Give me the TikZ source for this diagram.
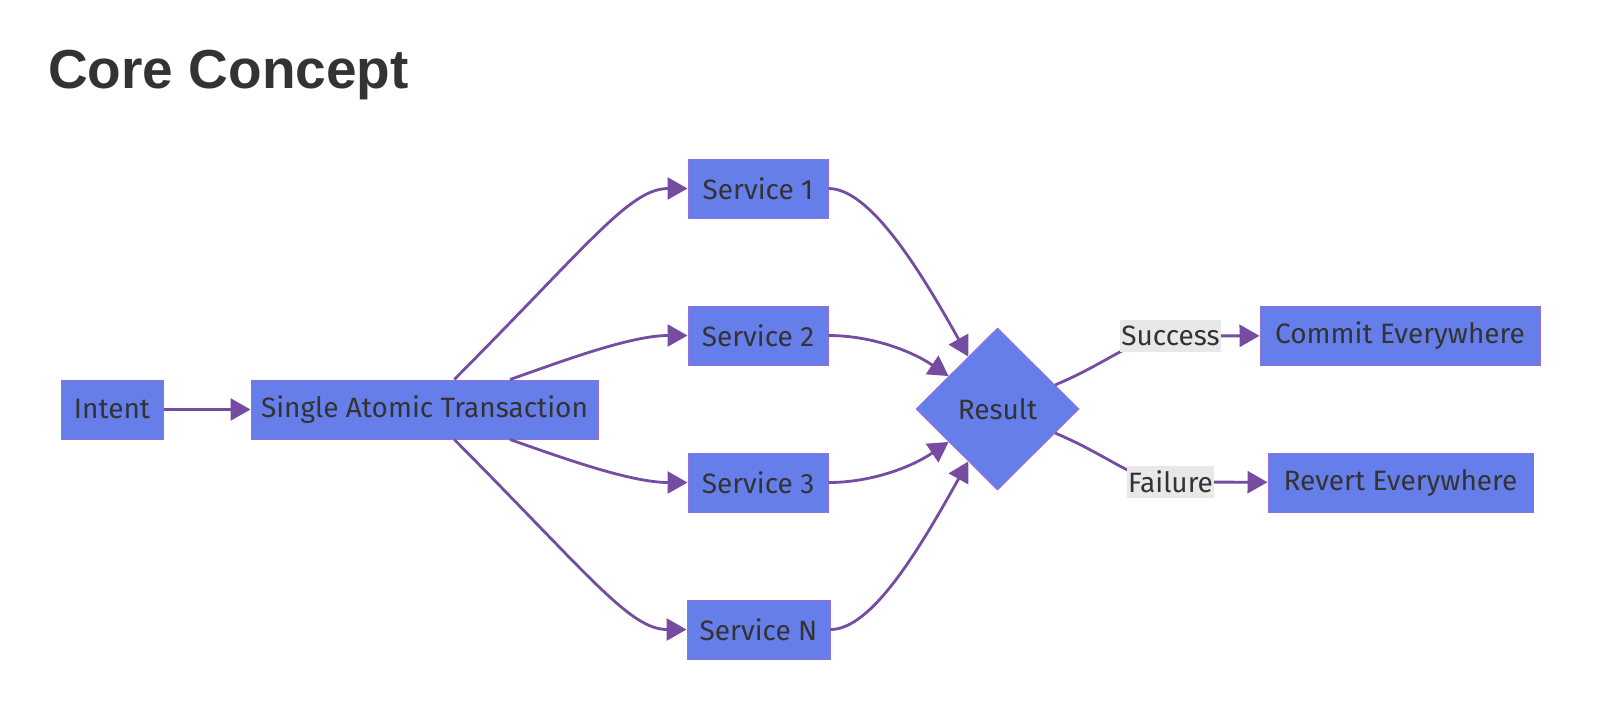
\documentclass[tikz,border=0pt]{standalone}
\usepackage{fontspec}
\setmainfont{Fira Sans}
\newfontfamily\titlefont{Liberation Sans}
\usetikzlibrary{shapes.geometric,arrows.meta}
\definecolor{nodefill}{HTML}{667EEA}
\definecolor{nodeborder}{HTML}{9370DB}
\definecolor{edgecol}{HTML}{764BA2}
\definecolor{txt}{HTML}{333333}
\definecolor{lblbg}{HTML}{E8E8E8}
\tikzset{
  box/.style={rectangle, fill=nodefill, draw=nodeborder, line width=1pt, text=txt,
    font=\fontsize{28}{30}\selectfont, minimum height=59pt, inner sep=0pt},
  decision/.style={diamond, aspect=1, fill=nodefill, draw=nodeborder, line width=1pt, text=txt,
    font=\fontsize{28}{30}\selectfont, minimum width=163pt, minimum height=162pt, inner sep=0pt},
  flow/.style={draw=edgecol, line width=2.8pt, -{Triangle[length=20pt,width=22pt]}},
  elabel/.style={fill=lblbg, text=txt, font=\fontsize{28}{30}\selectfont,
    minimum height=32pt, inner xsep=1pt, inner ysep=0pt},
}
\begin{document}
\begin{tikzpicture}[x=1pt,y=-1pt]
\useasboundingbox[fill=white] (0,0) rectangle (1600,716);
\node[anchor=base west, text=txt, font=\titlefont\bfseries\fontsize{55}{60}\selectfont, inner sep=0pt] (title) at (48,88) {Core Concept};

\node[box, minimum width=102pt] (intent) at (112,409.5) {Intent};
\node[box, minimum width=347pt] (sat) at (424.5,409.5) {Single Atomic Transaction};
\node[box, minimum width=140pt] (s1) at (758,188.5) {Service 1};
\node[box, minimum width=140pt] (s2) at (758,335.5) {Service 2};
\node[box, minimum width=140pt] (s3) at (758,482.5) {Service 3};
\node[box, minimum width=143pt] (sn) at (758.5,629.5) {Service N};
\node[decision] (res) at (997.5,409) {Result};
\node[box, minimum width=280pt] (commit) at (1400,335.5) {Commit Everywhere};
\node[box, minimum width=265pt] (revert) at (1400.5,482.5) {Revert Everywhere};
\coordinate (sl) at (1170.5,336);
\coordinate (fl) at (1170.5,482);

\draw[flow] (intent) -- (sat);
\draw[flow] (sat) .. controls (590,243) and (630,188.5) .. (s1);
\draw[flow] (sat) .. controls (560,362) and (630,335.5) .. (s2);
\draw[flow] (sat) .. controls (560,457) and (630,482.5) .. (s3);
\draw[flow] (sat) .. controls (590,576) and (630,629.5) .. (sn);

\draw[flow] (s1) .. controls (870,188.5) and (920,270) .. (res);
\draw[flow] (s2) .. controls (870,335.5) and (910,350) .. (res);
\draw[flow] (s3) .. controls (870,482.5) and (910,468) .. (res);
\draw[flow] (sn) .. controls (872,629.5) and (920,548) .. (res);

\draw[flow] (res) .. controls (1110,362) and (1135,336) .. (sl) -- (commit);
\draw[flow] (res) .. controls (1110,456) and (1135,482) .. (fl) -- (revert);

\node[elabel, minimum width=95pt] (succ) at (sl) {Success};
\node[elabel, minimum width=87pt] (fail) at (fl) {Failure};
\end{tikzpicture}
\end{document}
